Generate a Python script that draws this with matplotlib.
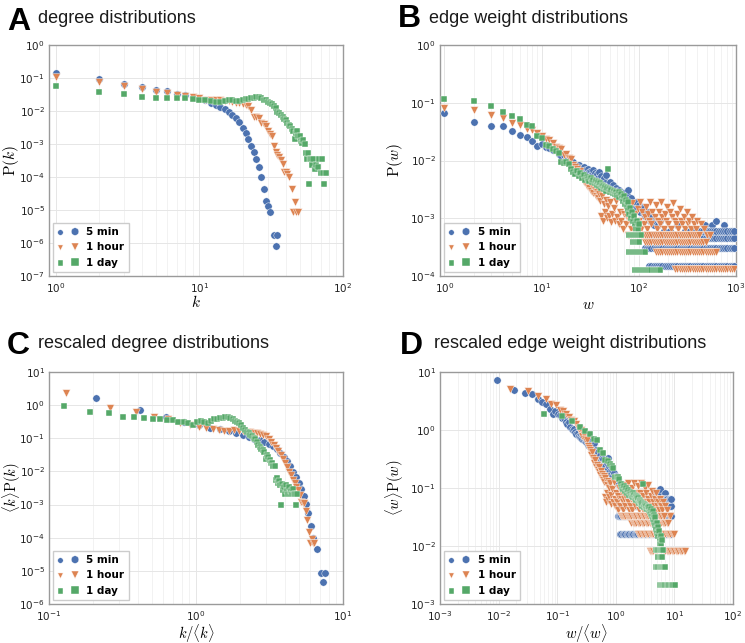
import matplotlib
matplotlib.use("Agg")
import matplotlib.pyplot as plt
from matplotlib.collections import PathCollection
from matplotlib.legend_handler import HandlerPathCollection
from matplotlib.ticker import LogLocator, NullFormatter

plt.rcParams["mathtext.fontset"] = "cm"
plt.rcParams["axes.unicode_minus"] = False

BLUE = "#4c72b0"
ORANGE = "#dd8452"
GREEN = "#55a868"
labels = ["5 min", "1 hour", "1 day"]

# ---------------- A: degree distributions ----------------
k_5min = [1, 2, 3, 4, 5, 6, 7, 8, 9, 10, 11, 12, 13, 14, 15, 16, 17, 18, 19, 20,
          21, 22, 23, 24, 25, 26, 27, 28, 29, 30, 31, 33, 34, 35]
pk_5min = [0.138, 0.091, 0.066, 0.052, 0.043, 0.039, 0.033, 0.030, 0.027, 0.024,
           0.021, 0.018, 0.0155, 0.013, 0.0115, 0.0095, 0.0078, 0.006, 0.0045, 0.0031,
           0.0021, 0.0014, 8.7e-4, 5.6e-4, 3.5e-4, 2.0e-4, 1.0e-4, 4.2e-5, 1.9e-5, 1.3e-5,
           8.7e-6, 1.7e-6, 8.3e-7, 1.7e-6]

k_1hour = [1, 2, 3, 4, 5, 6, 7, 8, 9, 10, 11, 12, 13, 14, 15, 16, 17, 18, 19, 20,
           21, 22, 23, 24, 25, 26, 27, 28, 29, 30, 31, 32, 33, 34, 35, 36, 37, 38, 39, 40,
           41, 42, 44, 45, 46, 47, 49]
pk_1hour = [0.105, 0.075, 0.058, 0.045, 0.038, 0.034, 0.031, 0.028, 0.026, 0.024,
            0.022, 0.021, 0.021, 0.021, 0.020, 0.020, 0.019, 0.018, 0.017, 0.016,
            0.015, 0.014, 0.011, 0.0067, 0.0064, 0.006, 0.0042, 0.0039, 0.0034, 0.0024,
            0.0020, 0.0017, 8.7e-4, 5.8e-4, 4.6e-4, 4.0e-4, 3.3e-4, 2.5e-4, 1.4e-4, 1.4e-4,
            1.2e-4, 1.0e-4, 4.2e-5, 8.5e-6, 1.7e-5, 8.5e-6, 8.5e-6]

k_1day = [1, 2, 3, 4, 5, 6, 7, 8, 9, 10, 11, 12, 13, 14, 15, 16, 17, 18, 19, 20,
          21, 22, 23, 24, 25, 26, 27, 28, 29, 30, 31, 32, 33, 34, 35, 36, 37, 38, 39, 40,
          41, 42, 43, 44, 45, 46, 47, 48, 49, 50, 51, 52, 53, 54, 55, 56, 57, 58, 59, 60,
          61, 62, 64, 65, 67, 68, 70, 71, 73, 74, 76]
pk_1day = [0.057, 0.037, 0.032, 0.026, 0.025, 0.025, 0.024, 0.024, 0.023, 0.022,
           0.021, 0.020, 0.019, 0.019, 0.020, 0.021, 0.021, 0.020, 0.020, 0.021,
           0.023, 0.023, 0.024, 0.025, 0.026, 0.026, 0.025, 0.022, 0.021, 0.019,
           0.017, 0.016, 0.014, 0.012, 0.0095, 0.0088, 0.0078, 0.0068, 0.0058, 0.0052,
           0.0044, 0.0038, 0.0034, 0.0028, 0.0024, 0.0014, 0.0021, 0.0024, 0.0018, 0.0017,
           0.0012, 0.0011, 0.0013, 0.0010, 5.2e-4, 3.6e-4, 5.2e-4, 6.3e-5, 3.4e-4, 3.6e-4,
           2.3e-4, 3.4e-4, 1.8e-4, 2.3e-4, 2.0e-4, 3.6e-4, 1.3e-4, 3.6e-4, 1.3e-4, 6.3e-5,
           1.3e-4]

# ---------------- B: edge weight distributions ----------------
w_5min = [1, 2, 3, 4, 5, 6, 7, 8, 9, 10, 11, 12, 13, 14, 15, 16, 17, 18, 19, 20,
          21, 22, 23, 24, 25, 26, 27, 28, 29, 30, 31, 32, 33, 34, 35, 36, 37, 38, 39, 40,
          41, 42, 44, 45, 46, 48, 50, 52, 54, 56, 58, 60, 62, 64, 66, 68, 70, 72, 75, 78,
          80, 83, 86, 90, 93, 96, 100, 104, 108, 112, 116, 120, 125, 130, 136, 142, 150, 158,
          165, 180, 210, 250, 300, 478, 560, 617, 744]
pw_5min = [0.067, 0.046, 0.040, 0.039, 0.032, 0.028, 0.0255, 0.0215, 0.0178, 0.0194,
           0.0173, 0.0165, 0.015, 0.0152, 0.0128, 0.0118, 0.0125, 0.0105, 0.0098, 0.0092,
           0.0095, 0.0085, 0.0078, 0.0082, 0.0074, 0.0070, 0.0076, 0.0068, 0.0064, 0.0072,
           0.0062, 0.0066, 0.0058, 0.0068, 0.0060, 0.0052, 0.0058, 0.0050, 0.0062, 0.0046,
           0.0054, 0.0044, 0.0050, 0.0040, 0.0056, 0.0036, 0.0042, 0.0034, 0.0038, 0.0030,
           0.0034, 0.0028, 0.0031, 0.0026, 0.0029, 0.0024, 0.0027, 0.0022, 0.0025, 0.0031,
           0.0020, 0.0022, 0.0018, 0.0016, 0.0019, 0.0015, 0.0017, 0.0013, 0.0015, 0.0012,
           0.0011, 0.0013, 0.0010, 9.0e-4, 0.0011, 7.5e-4, 9.0e-4, 7.5e-4, 9.0e-4, 6.0e-4,
           6.0e-4, 7.5e-4, 6.0e-4, 7.5e-4, 7.5e-4, 9.0e-4, 7.5e-4]

w_1hour = [1, 2, 3, 4, 5, 6, 7, 8, 9, 10, 11, 12, 13, 14, 15, 16, 17, 18, 19, 20,
           21, 22, 23, 24, 25, 26, 27, 28, 29, 30, 31, 32, 33, 34, 35, 36, 37, 38, 39, 40,
           41, 42, 43, 44, 45, 46, 47, 48, 49, 50, 52, 53, 55, 57, 58, 60, 62, 64, 66, 68,
           70, 72, 74, 76, 78, 80, 82, 84, 86, 88, 90, 92, 95, 97, 100, 103, 106, 109, 112, 115,
           118, 121, 124, 127, 130, 134, 138, 142, 146, 150, 154, 158, 162, 166, 170, 175, 180, 185,
           190, 196, 202, 208, 214, 220, 227, 234, 241, 248, 256, 264, 272, 280, 290, 300, 310, 320,
           332, 344, 356, 370, 385, 400, 420, 440, 470, 500, 540]
pw_1hour = [0.080, 0.075, 0.061, 0.054, 0.0445, 0.042, 0.0356, 0.034, 0.030, 0.027,
            0.0236, 0.0226, 0.020, 0.0173, 0.0165, 0.0159, 0.0125, 0.013, 0.011, 0.0105,
            0.0085, 0.0078, 0.0072, 0.0058, 0.0065, 0.0052, 0.0042, 0.0048, 0.0036, 0.0040,
            0.0033, 0.0030, 0.0036, 0.0027, 0.0031, 0.0024, 0.0028, 0.0022, 0.0026, 0.0020,
            0.0011, 0.0024, 9.0e-4, 0.0018, 0.0013, 0.0021, 0.0010, 0.0016, 0.0011, 0.0019,
            8.5e-4, 0.0012, 0.0015, 9.0e-4, 0.0020, 0.00104, 7.8e-4, 0.0013, 9.1e-4, 6.5e-4,
            0.00117, 0.00156, 7.8e-4, 0.00104, 5.2e-4, 0.0013, 9.1e-4, 6.5e-4, 0.00182, 0.00104,
            7.8e-4, 0.00117, 5.2e-4, 0.00143, 9.1e-4, 0.00195, 6.5e-4, 0.0013, 7.8e-4, 0.00104,
            0.00156, 6.5e-4, 0.00117, 9.1e-4, 0.00195, 7.8e-4, 0.0013, 5.2e-4, 0.00104, 0.00169,
            6.5e-4, 9.1e-4, 0.0013, 7.8e-4, 0.00195, 0.00104, 6.5e-4, 0.00117, 9.1e-4, 0.00156,
            7.8e-4, 0.0013, 6.5e-4, 0.00104, 0.00182, 9.1e-4, 7.8e-4, 0.00117, 6.5e-4, 0.00143,
            9.1e-4, 7.8e-4, 0.00104, 6.5e-4, 0.0013, 7.8e-4, 9.1e-4, 6.5e-4, 0.00104, 7.8e-4,
            6.5e-4, 9.1e-4, 5.2e-4, 7.8e-4, 6.5e-4, 5.2e-4, 5.2e-4]

w_1day = [1, 2, 3, 4, 5, 6, 7, 8, 9, 10, 11, 12, 13, 14, 15, 16, 17, 18, 19, 20,
          21, 22, 23, 24, 25, 26, 27, 28, 29, 30, 31, 32, 33, 34, 35, 36, 37, 38, 39, 40,
          41, 42, 43, 44, 45, 46, 47, 48, 49, 50, 52, 54, 55, 57, 58, 60, 62, 63, 65, 67,
          68, 70, 72, 73, 75, 77, 78, 80, 82, 84, 86, 88, 90, 92, 94, 96, 98, 100]
pw_1day = [0.116, 0.107, 0.087, 0.069, 0.059, 0.052, 0.042, 0.040, 0.027, 0.0245,
           0.0186, 0.018, 0.016, 0.0145, 0.0135, 0.0095, 0.0092, 0.0094, 0.0088, 0.0070,
           0.0062, 0.0058, 0.0066, 0.0054, 0.0060, 0.0050, 0.0056, 0.0046, 0.0052, 0.0048,
           0.0044, 0.0050, 0.0042, 0.0046, 0.0040, 0.0044, 0.0038, 0.0042, 0.0036, 0.0040,
           0.0034, 0.0038, 0.0036, 0.0032, 0.0035, 0.0030, 0.0034, 0.0070, 0.0032, 0.0028,
           0.0031, 0.0027, 0.0030, 0.0026, 0.0029, 0.0025, 0.0028, 0.0023, 0.0026, 0.0022,
           0.0020, 0.0024, 0.0018, 0.0021, 0.0016, 0.0019, 0.0014, 0.0012, 0.0015, 0.0010,
           0.0013, 9.0e-4, 0.0011, 8.0e-4, 6.5e-4, 9.0e-4, 6.5e-4, 7.8e-4]

# tail of the weight distributions: runs of equal probability (P, w from, w to)
w_grid = [80, 84, 88, 92, 96, 100, 105, 110, 116, 122, 128, 135, 142, 150, 158, 166,
          175, 184, 194, 204, 215, 226, 238, 250, 263, 277, 292, 307, 323, 340, 358, 377,
          397, 418, 440, 463, 487, 513, 540, 568, 598, 630, 663, 698, 735, 774, 815, 858,
          903, 950]
runs_5min = [(1.5e-4, 125, 950), (3.0e-4, 114, 950), (4.5e-4, 128, 950), (6.0e-4, 340, 950)]
runs_1hour = [(1.3e-4, 230, 950), (2.6e-4, 150, 650), (3.9e-4, 114, 500), (5.2e-4, 65, 420)]
runs_1day = [(1.28e-4, 92, 166), (2.6e-4, 80, 116), (3.9e-4, 88, 100), (5.2e-4, 80, 105)]

# mean edge weight used for rescaling (panel D)
mean_w = [108, 63, 16.5]

# ---------------- C: rescaled degree distributions ----------------
xc_5min = [0.208, 0.416, 0.624, 0.832, 1.04, 1.248, 1.456, 1.664, 1.872, 2.08,
           2.288, 2.496, 2.704, 2.912, 3.12, 3.328, 3.536, 3.744, 3.952, 4.16,
           4.368, 4.576, 4.784, 4.992, 5.2, 5.408, 5.616, 5.824, 6.032, 6.24,
           6.656, 7.072, 7.28, 7.488]
yc_5min = [1.68, 0.70, 0.45, 0.32, 0.26, 0.21, 0.19, 0.165, 0.147, 0.125,
           0.108, 0.098, 0.087, 0.079, 0.068, 0.058, 0.047, 0.036, 0.028, 0.021,
           0.0145, 0.0098, 0.0069, 0.0044, 0.0029, 0.0018, 0.00106, 0.00055, 0.00022, 9.7e-5,
           4.6e-5, 8.8e-6, 4.6e-6, 8.8e-6]

xc_1hour = [0.13, 0.26, 0.39, 0.52, 0.65, 0.78, 0.91, 1.04, 1.17, 1.30,
            1.43, 1.56, 1.69, 1.82, 1.95, 2.08, 2.21, 2.34, 2.47, 2.60,
            2.73, 2.86, 2.99, 3.12, 3.25, 3.38, 3.51, 3.64, 3.77, 3.90,
            4.03, 4.16, 4.29, 4.42, 4.55, 4.68, 4.81, 4.94, 5.07, 5.20,
            5.33, 5.46, 5.59, 5.72, 5.85, 5.98, 6.11, 6.24, 6.37]
yc_1hour = [2.38, 0.80, 0.61, 0.43, 0.37, 0.28, 0.25, 0.22, 0.21, 0.19,
            0.178, 0.17, 0.165, 0.175, 0.165, 0.165, 0.16, 0.155, 0.145, 0.14,
            0.135, 0.125, 0.115, 0.093, 0.075, 0.063, 0.05, 0.04, 0.032, 0.024,
            0.018, 0.014, 0.0098, 0.0078, 0.0055, 0.0045, 0.0034, 0.0028, 0.002, 0.0012,
            0.0011, 0.0011, 6.5e-4, 3.4e-4, 1.5e-4, 7e-5, 9e-5, 7e-5, 7e-5]

xc_1day = [0.127, 0.19, 0.254, 0.317, 0.38, 0.443, 0.506, 0.57, 0.633, 0.696,
           0.76, 0.823, 0.886, 0.95, 1.013, 1.076, 1.14, 1.203, 1.266, 1.33,
           1.393, 1.456, 1.52, 1.583, 1.646, 1.71, 1.773, 1.836, 1.9, 1.963,
           2.026, 2.09, 2.153, 2.216, 2.28, 2.343, 2.406, 2.47, 2.533, 2.596,
           2.66, 2.723, 2.786, 2.85, 2.913, 2.976, 3.04, 3.103, 3.166, 3.23,
           3.293, 3.356, 3.42, 3.48, 3.55, 3.61, 3.67, 3.73, 3.8, 3.86,
           3.925, 3.99, 4.05, 4.115, 4.18, 4.24, 4.3, 4.37, 4.43, 4.49,
           4.56, 4.62, 4.7, 4.76, 4.85]
yc_1day = [0.96, 0.64, 0.57, 0.45, 0.43, 0.40, 0.37, 0.37, 0.36, 0.36,
           0.32, 0.30, 0.28, 0.25, 0.31, 0.33, 0.32, 0.29, 0.33, 0.37,
           0.38, 0.40, 0.42, 0.45, 0.44, 0.41, 0.37, 0.34, 0.32, 0.29,
           0.25, 0.20, 0.178, 0.155, 0.14, 0.125, 0.117, 0.105, 0.093, 0.075,
           0.063, 0.055, 0.047, 0.043, 0.039, 0.0235, 0.031, 0.027, 0.022, 0.018,
           0.0178, 0.0147, 0.015, 0.0055, 0.0062, 0.0045, 0.005, 0.0038, 0.001, 0.0042,
           0.0028, 0.0035, 0.0021, 0.004, 0.0026, 0.0021, 0.0033, 0.0021, 0.0025, 0.0021,
           0.0029, 0.0021, 0.0021, 0.001, 0.0021]


def with_runs(ws, ps, runs):
    ws, ps = list(ws), list(ps)
    for p, lo, hi in runs:
        for w in w_grid:
            if lo <= w <= hi:
                ws.append(w)
                ps.append(p)
    return ws, ps


wb5, pb5 = with_runs(w_5min, pw_5min, runs_5min)
wb1, pb1 = with_runs(w_1hour, pw_1hour, runs_1hour)
wbd, pbd = with_runs(w_1day, pw_1day, runs_1day)

W, H = 745, 643
fig = plt.figure(figsize=(W / 100, H / 100), dpi=100)


def rect(l, t, r, b):
    return [l / W, 1 - b / H, (r - l) / W, (b - t) / H]


axA = fig.add_axes(rect(49, 45, 343, 276))
axB = fig.add_axes(rect(440, 45, 736, 276))
axC = fig.add_axes(rect(49, 372, 343, 604))
axD = fig.add_axes(rect(440, 372, 733, 604))

styles = [("o", BLUE, 28), ("v", ORANGE, 31), ("s", GREEN, 24)]


def draw(ax, series):
    for (x, y), (m, c, s), lab in zip(series, styles, labels):
        ax.scatter(x, y, marker=m, color=c, s=s, edgecolors="white",
                   linewidths=0.3, label=lab, zorder=3)


draw(axA, [(k_5min, pk_5min), (k_1hour, pk_1hour), (k_1day, pk_1day)])
draw(axB, [(wb5, pb5), (wb1, pb1), (wbd, pbd)])
draw(axC, [(xc_5min, yc_5min), (xc_1hour, yc_1hour), (xc_1day, yc_1day)])
dseries = []
for (ws, ps), m in zip([(wb5, pb5), (wb1, pb1), (wbd, pbd)], mean_w):
    dseries.append(([w / m for w in ws], [p * m for p in ps]))
draw(axD, dseries)

# axes, limits, labels, label size, label positions (axes coords)
setup = [
    (axA, (0.9, 100), (1e-7, 1), r"$k$", r"$\mathrm{P}(k)$", 11, -0.095, -0.08),
    (axB, (0.9, 1000), (1e-4, 1), r"$w$", r"$\mathrm{P}(w)$", 11, -0.117, -0.093),
    (axC, (0.1, 10), (1e-6, 10), r"$k/\langle k\rangle$",
     r"$\langle k\rangle\mathrm{P}(k)$", 10.5, -0.09, -0.077),
    (axD, (1e-3, 100), (1e-3, 10), r"$w/\langle w\rangle$",
     r"$\langle w\rangle\mathrm{P}(w)$", 10.5, -0.115, -0.077),
]
for ax, xl, yl, xlab, ylab, fs, ylx, xly in setup:
    ax.set_xscale("log")
    ax.set_yscale("log")
    ax.set_xlim(*xl)
    ax.set_ylim(*yl)
    ax.xaxis.set_major_locator(LogLocator(base=10, numticks=20))
    ax.yaxis.set_major_locator(LogLocator(base=10, numticks=20))
    ax.xaxis.set_minor_locator(LogLocator(base=10, subs=range(2, 10), numticks=100))
    ax.yaxis.set_minor_locator(LogLocator(base=10, subs=range(2, 10), numticks=100))
    ax.xaxis.set_minor_formatter(NullFormatter())
    ax.yaxis.set_minor_formatter(NullFormatter())
    ax.grid(True, which="major", color="#e6e6e6", linewidth=0.7, zorder=0)
    ax.grid(True, which="minor", axis="x", color="#f0f0f0", linewidth=0.6, zorder=0)
    ax.set_axisbelow(True)
    ax.tick_params(which="both", length=0, labelsize=7.5, pad=3, colors="#222222")
    ax.tick_params(axis="x", pad=3.5)
    for sp in ax.spines.values():
        sp.set_color("#9a9a9a")
        sp.set_linewidth(1.0)
    ax.set_xlabel(xlab, fontsize=fs)
    ax.set_ylabel(ylab, fontsize=fs)
    ax.yaxis.set_label_coords(ylx, 0.5)
    ax.xaxis.set_label_coords(0.5, xly)
    ax.legend(loc="lower left", scatterpoints=2, fancybox=False, framealpha=1,
              edgecolor="#cccccc", prop={"weight": "bold", "size": 7.5},
              borderaxespad=0.4,
              handler_map={PathCollection: HandlerPathCollection(sizes=[16, 30])})

titles = [
    ("A", "degree distributions", 7, 38, 30, 23),
    ("B", "edge weight distributions", 398, 429, 27, 23),
    ("C", "rescaled degree distributions", 7, 38, 354, 348),
    ("D", "rescaled edge weight distributions", 400, 434, 354, 348),
]
for letter, text, xl, xt, yl, yt in titles:
    fig.text(xl / W, 1 - yl / H, letter, fontsize=23, fontweight="bold",
             family="Liberation Sans", va="baseline", ha="left")
    fig.text(xt / W, 1 - yt / H, text, fontsize=13, family="Liberation Sans",
             va="baseline", ha="left", color="#1a1a1a")

fig.savefig("out.png", dpi=100)
